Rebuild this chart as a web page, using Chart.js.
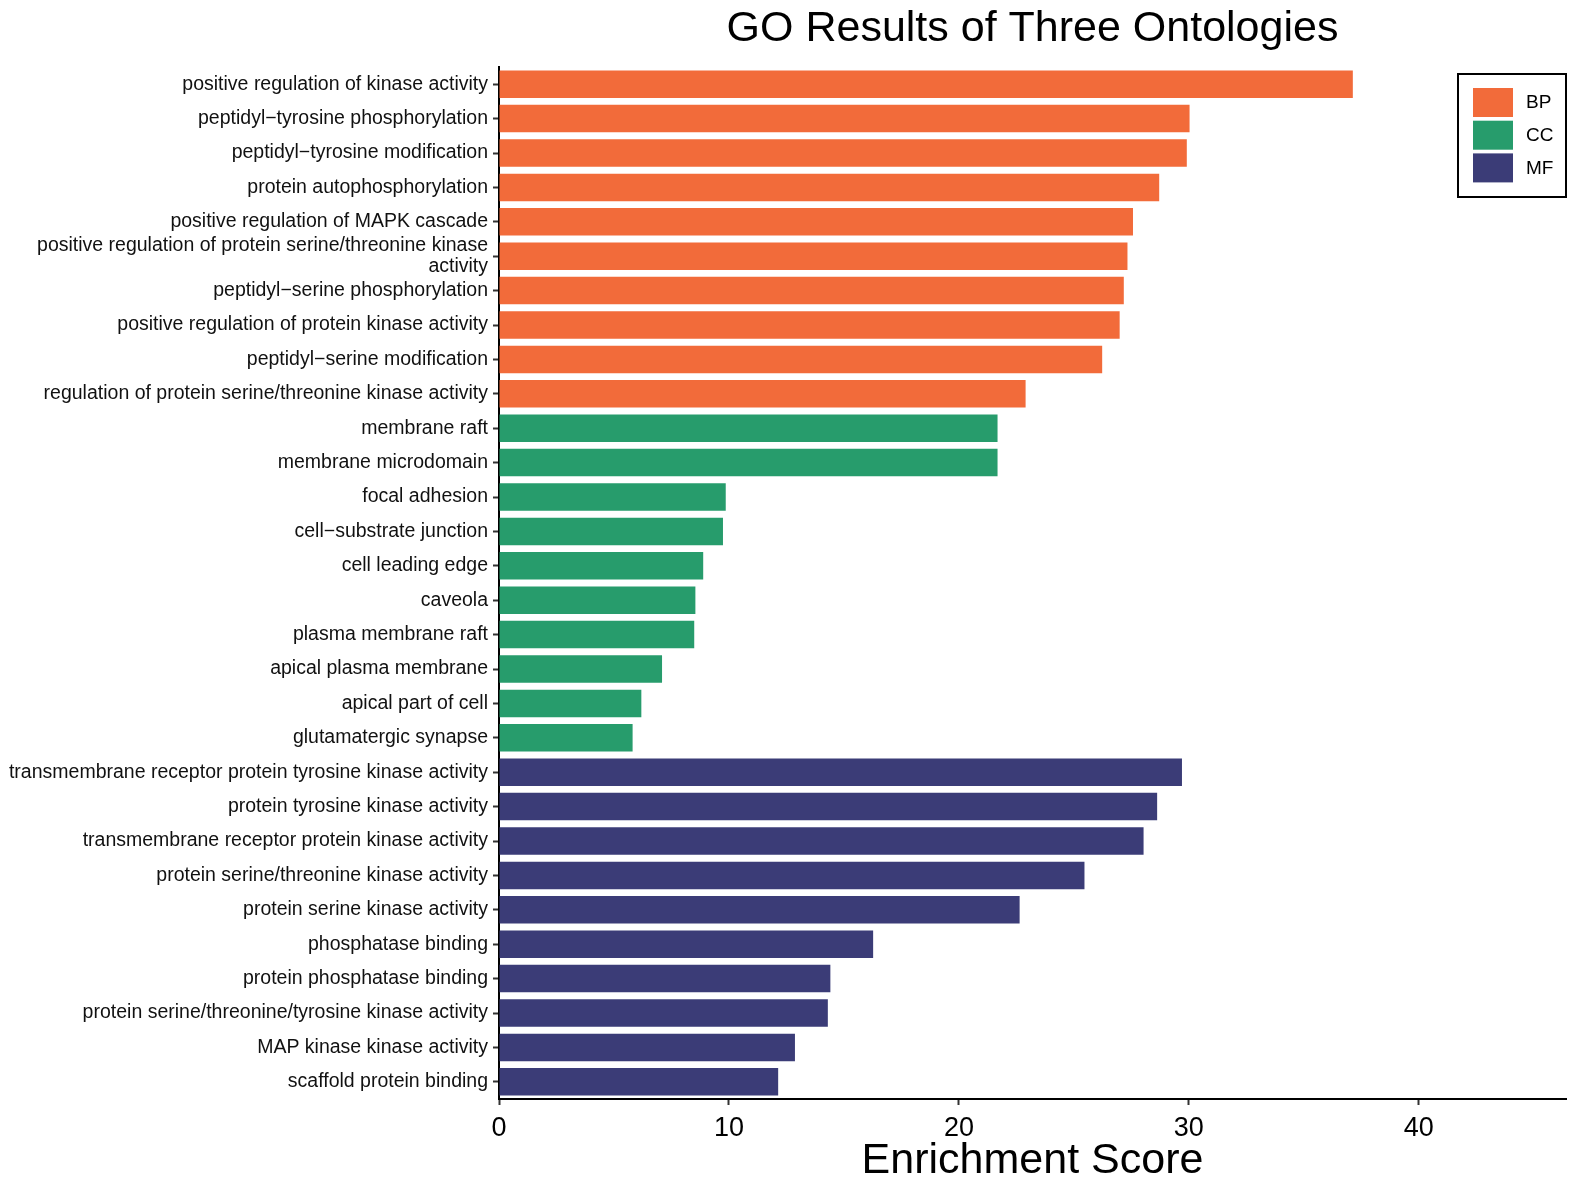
<!DOCTYPE html>
<html>
<head>
<meta charset="utf-8">
<title>GO Results of Three Ontologies</title>
<script src="https://cdn.jsdelivr.net/npm/chart.js@4.4.1/dist/chart.umd.min.js"></script>
<style>
  html, body { margin: 0; padding: 0; background: #fff; }
  #wrap { width: 1570px; height: 1183px; position: relative; }
</style>
</head>
<body>
<div id="wrap"><canvas id="goChart"></canvas></div>
<script>
// GO terms, top to bottom
const terms = [
  'positive regulation of kinase activity',
  'peptidyl\u2212tyrosine phosphorylation',
  'peptidyl\u2212tyrosine modification',
  'protein autophosphorylation',
  'positive regulation of MAPK cascade',
  ['positive regulation of protein serine/threonine kinase', 'activity'],
  'peptidyl\u2212serine phosphorylation',
  'positive regulation of protein kinase activity',
  'peptidyl\u2212serine modification',
  'regulation of protein serine/threonine kinase activity',
  'membrane raft',
  'membrane microdomain',
  'focal adhesion',
  'cell\u2212substrate junction',
  'cell leading edge',
  'caveola',
  'plasma membrane raft',
  'apical plasma membrane',
  'apical part of cell',
  'glutamatergic synapse',
  'transmembrane receptor protein tyrosine kinase activity',
  'protein tyrosine kinase activity',
  'transmembrane receptor protein kinase activity',
  'protein serine/threonine kinase activity',
  'protein serine kinase activity',
  'phosphatase binding',
  'protein phosphatase binding',
  'protein serine/threonine/tyrosine kinase activity',
  'MAP kinase kinase activity',
  'scaffold protein binding'
];

const ontology = [
  'BP', 'BP', 'BP', 'BP', 'BP', 'BP', 'BP', 'BP', 'BP', 'BP',
  'CC', 'CC', 'CC', 'CC', 'CC', 'CC', 'CC', 'CC', 'CC', 'CC',
  'MF', 'MF', 'MF', 'MF', 'MF', 'MF', 'MF', 'MF', 'MF', 'MF'
];

const scores = [
  37.13, 30.03, 29.91, 28.71, 27.57, 27.33, 27.17, 26.99, 26.23, 22.90,
  21.68, 21.68, 9.86, 9.74, 8.88, 8.54, 8.49, 7.09, 6.19, 5.81,
  29.70, 28.62, 28.03, 25.46, 22.64, 16.27, 14.41, 14.30, 12.87, 12.14
];

const ontologyNames = ['BP', 'CC', 'MF'];
const ontologyColors = ['#F26B3A', '#279C6C', '#3B3C77'];
const xTicks = [0, 10, 20, 30, 40];
const xMax = 46.4;

const FONT = '"Liberation Sans", Arial, Helvetica, sans-serif';

// title centred over the plot panel, like ggplot
const panelTitle = {
  id: 'panelTitle',
  afterDraw(chart) {
    const { ctx, chartArea } = chart;
    ctx.save();
    ctx.font = '43px ' + FONT;
    ctx.fillStyle = '#000';
    ctx.textAlign = 'center';
    ctx.textBaseline = 'middle';
    ctx.fillText('GO Results of Three Ontologies', (chartArea.left + chartArea.right) / 2, 29);
    ctx.restore();
  }
};

// boxed legend in the top-right corner of the panel
const boxLegend = {
  id: 'boxLegend',
  afterDraw(chart) {
    const { ctx, chartArea } = chart;
    const w = 108, h = 123;
    const left = chartArea.right - w;
    const top = chartArea.top + 7;
    ctx.save();
    ctx.lineWidth = 2;
    ctx.strokeStyle = '#000';
    ctx.strokeRect(left, top, w, h);
    ctx.font = '19px ' + FONT;
    ctx.textBaseline = 'middle';
    ctx.textAlign = 'left';
    chart.data.datasets.forEach((ds, i) => {
      const y = top + 14 + i * 32.7;
      ctx.fillStyle = ds.backgroundColor;
      ctx.fillRect(left + 15, y, 40, 29);
      ctx.fillStyle = '#000';
      ctx.fillText(ds.label, left + 68, y + 15);
    });
    ctx.restore();
  }
};

const datasets = ontologyNames.map((name, k) => ({
  label: name,
  data: scores.map((v, i) => (ontology[i] === name ? v : null)),
  backgroundColor: ontologyColors[k],
  borderWidth: 0,
  barPercentage: 0.8,
  categoryPercentage: 1.0
}));

window.addEventListener('load', () => {
  const ctx = document.getElementById('goChart').getContext('2d');
  new Chart(ctx, {
    type: 'bar',
    data: { labels: terms, datasets: datasets },
    plugins: [panelTitle, boxLegend],
    options: {
      indexAxis: 'y',
      responsive: true,
      maintainAspectRatio: false,
      animation: false,
      layout: { padding: { top: 67, right: 4, bottom: 0, left: 0 } },
      plugins: {
        legend: { display: false },
        title: { display: false },
        tooltip: { enabled: false }
      },
      scales: {
        x: {
          stacked: true,
          min: 0,
          max: xMax,
          afterFit: (s) => { s.height = 84; },
          afterBuildTicks: (s) => { s.ticks = xTicks.map(v => ({ value: v })); },
          grid: {
            drawOnChartArea: false,
            drawTicks: true,
            tickLength: 6,
            tickWidth: 2,
            tickColor: '#333'
          },
          border: { display: true, color: '#000', width: 2 },
          ticks: {
            color: '#000',
            padding: 7,
            maxRotation: 0,
            font: { family: FONT, size: 27 }
          },
          title: {
            display: true,
            text: 'Enrichment Score',
            color: '#000',
            padding: { top: 0, bottom: 0 },
            font: { family: FONT, size: 43, lineHeight: 1.0 }
          }
        },
        y: {
          stacked: true,
          afterFit: (s) => { s.width = 499; },
          grid: {
            offset: false,
            drawOnChartArea: false,
            drawTicks: true,
            tickLength: 6,
            tickWidth: 2,
            tickColor: '#333'
          },
          border: { display: true, color: '#000', width: 2 },
          ticks: {
            color: '#111',
            padding: 5,
            autoSkip: false,
            font: { family: FONT, size: 19.5, lineHeight: 1.05 }
          }
        }
      }
    }
  });
});
</script>
</body>
</html>
